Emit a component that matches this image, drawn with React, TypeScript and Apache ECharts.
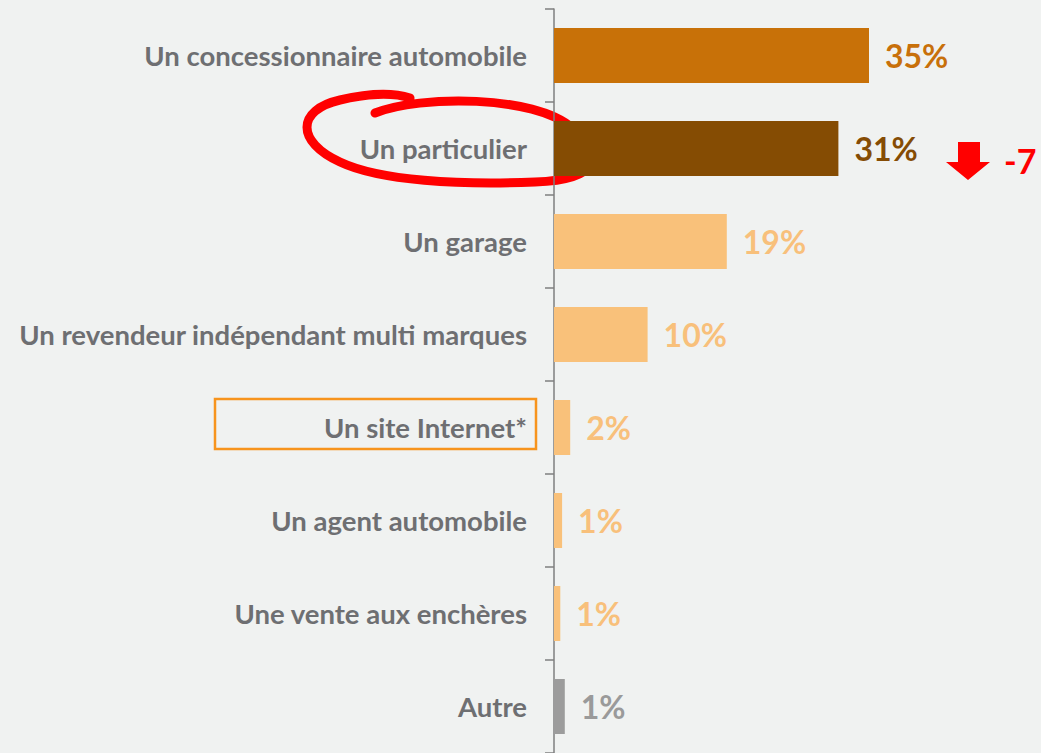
import React, { useEffect, useRef } from "react";
import * as echarts from "echarts";

const categories = [
  "Un concessionnaire automobile",
  "Un particulier",
  "Un garage",
  "Un revendeur indépendant multi marques",
  "Un site Internet*",
  "Un agent automobile",
  "Une vente aux enchères",
  "Autre",
];
const values = [35, 31.6, 19.2, 10.4, 1.8, 0.9, 0.7, 1.2];
const valueLabels = ["35%", "31%", "19%", "10%", "2%", "1%", "1%", "1%"];
const barColors = ["#C87108", "#854C03", "#F9C17A", "#F9C17A", "#F9C17A", "#F9C17A", "#F9C17A", "#9C9C9C"];
const labelColors = ["#C8700A", "#854C04", "#F8C07B", "#F8C07B", "#F8C07B", "#F8C07B", "#F8C07B", "#9A9A9A"];
const changeLabel = "-7";

const ellipsePath =
  "M375,113 C420,95 535,95 572,128 C606,155 600,180 535,182 C460,185 380,181 340,162 C296,142 296,110 340,100 C365,94 392,92 410,98";
const arrowPath = "M958,142 L980,142 L980,162 L990,162 L968,180 L946,162 L958,162 Z";

let registered = false;

export default function App() {
  const ref = useRef<HTMLDivElement>(null);
  useEffect(() => {
    if (!registered) {
      echarts.graphic.registerShape("redLoop", echarts.graphic.extendPath(ellipsePath, {}));
      echarts.graphic.registerShape("downArrow", echarts.graphic.extendPath(arrowPath, {}));
      registered = true;
    }
    const chart = echarts.init(ref.current!, null, { renderer: "svg" });
    const font = "Lato, 'Noto Sans', sans-serif";
    chart.setOption({
      animation: false,
      backgroundColor: "#F0F2F1",
      grid: { left: 554, top: 9, width: 450, height: 744, containLabel: false },
      xAxis: {
        type: "value",
        min: 0,
        max: 50,
        show: false,
      },
      yAxis: {
        type: "category",
        inverse: true,
        data: categories,
        axisLine: { show: true, lineStyle: { color: "#7F7F7F", width: 1.5 } },
        axisTick: { show: true, length: 9, lineStyle: { color: "#7F7F7F", width: 1.5 } },
        axisLabel: {
          margin: 27,
          color: "#6E6F72",
          fontFamily: font,
          fontWeight: "bold",
          fontSize: 27.5,
        },
      },
      series: [
        {
          type: "bar",
          barWidth: 55,
          data: values.map((v, i) => ({
            value: v,
            itemStyle: { color: barColors[i] },
            label: {
              show: true,
              position: "right",
              distance: 16,
              formatter: valueLabels[i],
              color: labelColors[i],
              fontFamily: font,
              fontWeight: "bold",
              fontSize: 32,
            },
          })),
        },
      ],
      graphic: [
        {
          type: "rect",
          shape: { x: 215, y: 399, width: 321, height: 50 },
          style: { fill: "none", stroke: "#F7941D", lineWidth: 2.5 },
          silent: true,
        },
        {
          type: "redLoop",
          x: 0,
          y: 0,
          style: { fill: "none", stroke: "#FF0000", lineWidth: 9, lineCap: "round", lineJoin: "round" },
          silent: true,
        },
        {
          type: "downArrow",
          x: 0,
          y: 0,
          style: { fill: "#FF0000", stroke: "none" },
          silent: true,
        },
        {
          type: "text",
          x: 1004,
          y: 160,
          style: {
            text: changeLabel,
            fill: "#FF0000",
            font: "bold 34px " + font,
            verticalAlign: "middle",
          },
          silent: true,
        },
      ],
    });
    return () => chart.dispose();
  }, []);
  return <div ref={ref} style={{ position: "fixed", left: 0, top: 0, width: 1041, height: 753 }} />;
}
